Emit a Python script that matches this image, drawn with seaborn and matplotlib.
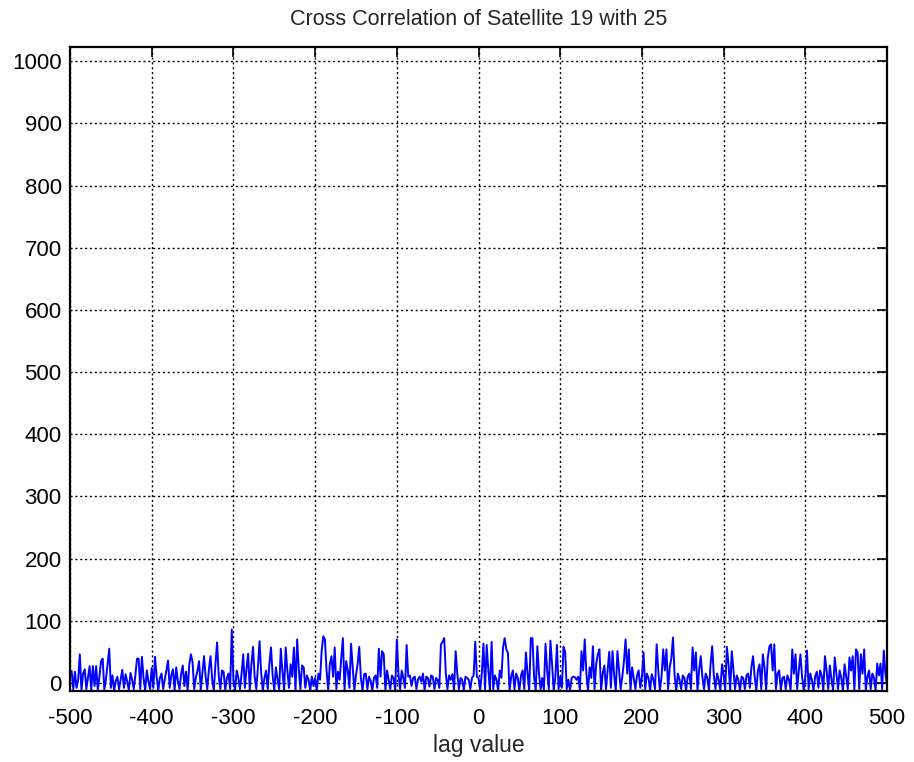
import numpy as np
import pandas as pd
import matplotlib
matplotlib.use('Agg')
import matplotlib.pyplot as plt
import seaborn as sns

# lags -500..500 in steps of 2, values read segment by segment (100 lags each)
seg_m500 = [20, 19, -10, 18, -8, 5, 46, -12, 15, 22, -10, 8, 27, -12, 27, -5, 27, -12, 10, 35,
            39, -11, 6, 30, 55, -8, 12, -12, 3, 10, -10, 6, 21, -8, 14, 2, -12, 16, 5, -10,
            12, 39, 39, -10, 42, 8, -12, 20, 2, -10]
seg_m400 = [24, -8, 42, 10, -12, 8, 15, -10, 5, 20, 36, -8, 12, 22, -12, 25, 3, -10, 14, 28,
            -5, 18, -12, 30, 46, 33, -10, 8, 20, 35, -12, 15, 43, 10, -10, 22, 43, 5, -12, 30,
            65, 12, -10, 20, 18, -12, 8, 15, -10, 86]
seg_m300 = [5, -12, 20, 8, -10, 15, 46, -8, 22, 47, -12, 30, 58, 10, -10, 25, 67, 15, -12, 8,
            20, -10, 30, 57, 12, -12, 25, 5, -10, 55, 18, -12, 57, 20, -8, 30, 10, 57, -12, 70,
            22, -10, 28, 25, -8, 12, 5, -12, 10, -5]
seg_m200 = [8, -12, 15, 5, 51, 75, 70, 20, -12, 30, 43, 10, 57, -10, 18, 5, 40, 72, -12, 35,
            20, -8, 63, 25, -12, 12, 30, 58, 8, -12, 14, 15, -10, 10, 3, -12, 8, 12, -8, 55,
            10, 51, 46, -12, 20, 5, -10, 12, 8, -12]
seg_m100 = [70, 15, -10, 20, 8, -8, 61, 10, 12, -5, 8, 10, -10, 6, 10, 2, 15, -12, 10, 8,
            -6, 12, 10, -10, 8, 5, -8, 62, 66, 72, 15, -10, 12, 5, 14, -12, 51, 15, -10, 8,
            5, -12, 10, 8, 5, -10, 8, 12, 66, 10]
seg_0 = [8, -12, 15, 63, -10, 61, 20, -12, 66, -10, 12, 5, -12, 20, 8, 57, 72, 54, 48, -12,
         10, 20, -10, 15, 8, -12, 12, 20, -10, 49, 15, -12, 72, 72, 10, -12, 59, 15, -10, 8,
         -12, 63, 20, -10, 68, 30, -12, 8, 61, -10]
seg_100 = [10, -8, 58, 50, -10, 5, -12, 8, 10, 9, 5, 10, -12, 51, 20, 70, 15, -12, 25, 8,
           59, -10, 30, 46, 54, -12, 15, 28, -10, 20, 50, -8, 51, 12, -12, 51, 20, -10, 10, 35,
           70, 15, 54, -12, 25, 8, -10, 12, 20, -8]
seg_200 = [10, 49, -10, 15, 8, -12, 14, 5, -10, 62, 20, -12, 10, 54, 20, 54, -10, 25, 40, 73,
           12, -12, 15, 5, -10, 12, 8, -12, 10, 15, -10, 57, 20, 49, -12, 20, 43, 10, -10, 15,
           8, -12, 30, 59, 12, -10, 15, 5, -12, 30]
seg_300 = [12, -10, 58, 30, -12, 51, 20, -10, 12, 5, -12, 10, 8, -10, 12, 15, -8, 25, 43, 10,
           -12, 20, 30, -10, 46, 25, -12, 40, 59, 62, 20, 62, -10, 15, 20, -12, 8, 10, -10, 12,
           5, -12, 54, 15, 46, -10, 20, 46, 10, -12]
seg_400 = [10, 52, -10, 15, 5, -12, 10, 18, -8, 20, 12, -12, 43, 20, -10, 28, 5, -12, 41, 15,
           -10, 20, 8, -12, 30, 10, -10, 41, 20, 43, -12, 54, 49, -10, 46, 15, 54, -12, 10, 20,
           -10, 15, 8, -12, 31, 12, 31, -10, 52, 15, -5]

values = (seg_m500 + seg_m400 + seg_m300 + seg_m200 + seg_m100
          + seg_0 + seg_100 + seg_200 + seg_300 + seg_400)
lags = np.arange(-500, 501, 2)
df = pd.DataFrame({'lag': lags, 'xcorr': values})

x_ticks = np.arange(-500, 501, 100)
y_ticks = np.arange(0, 1001, 100)

sns.set_style('white')
plt.rcParams['font.family'] = ['Liberation Sans', 'DejaVu Sans']
plt.rcParams['axes.unicode_minus'] = False

fig = plt.figure(figsize=(9.14, 7.62), dpi=100)
ax = fig.add_axes([0.0766, 0.0932, 0.8939, 0.8451])

sns.lineplot(data=df, x='lag', y='xcorr', color='#0000ff', linewidth=1.4, ax=ax)

ax.set_xlim(-500, 500)
ax.set_ylim(-13, 1023)
ax.set_xticks(x_ticks)
ax.set_yticks(y_ticks)
ax.grid(True, color='black', linestyle=(0, (1.5, 2.0)), linewidth=1.0)
ax.tick_params(direction='in', top=True, right=True, length=7, width=1.2,
               labelsize=16, colors='black')
ax.tick_params(axis='x', pad=12)
ax.tick_params(axis='y', pad=6)
for sp in ax.spines.values():
    sp.set_visible(True)
    sp.set_color('black')
    sp.set_linewidth(1.6)

ax.set_title('Cross Correlation of Satellite 19 with 25', fontsize=15.5, pad=16)
ax.set_xlabel('lag value', fontsize=16.5, labelpad=4)
ax.set_ylabel('')

fig.savefig('out.png', dpi=100)
